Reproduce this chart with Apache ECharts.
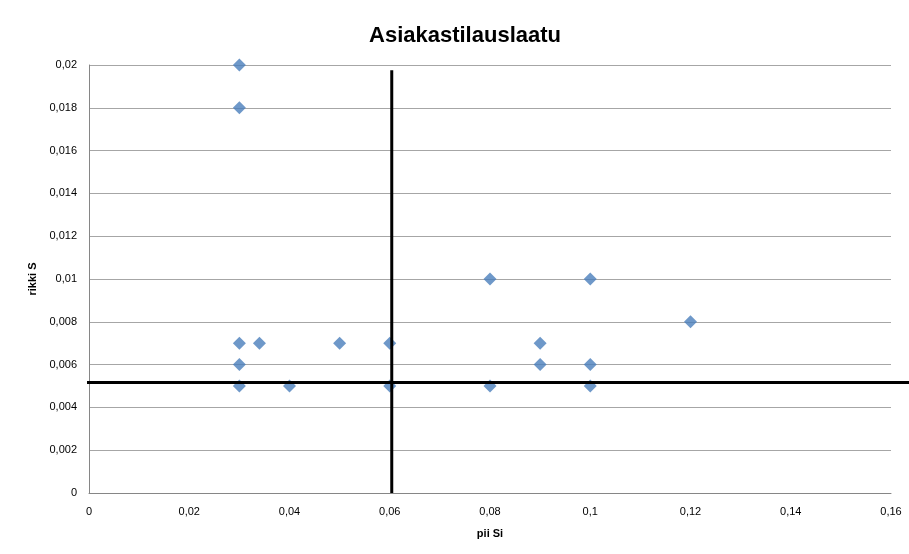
<!DOCTYPE html>
<html>
<head>
<meta charset="utf-8">
<script src="https://cdn.jsdelivr.net/npm/echarts@6/dist/echarts.min.js"></script>
<style>
  html, body { margin: 0; padding: 0; background: #fff; }
  #main { width: 909px; height: 554px; }
</style>
</head>
<body>
<div id="main"></div>
<script>
// pii Si (x) ja rikki S (y)
var piiSi = [0.03, 0.03, 0.03, 0.034, 0.05, 0.06, 0.03, 0.03, 0.04, 0.06, 0.08, 0.1, 0.12, 0.09, 0.09, 0.1, 0.08, 0.1];
var rikkiS = [0.02, 0.018, 0.007, 0.007, 0.007, 0.007, 0.006, 0.005, 0.005, 0.005, 0.01, 0.01, 0.008, 0.007, 0.006, 0.006, 0.005, 0.005];
// rajaviivat
var rajaX = 0.0604;
var rajaY = 0.00516;

function fmt(v) {
    return String(Math.round(v * 1000) / 1000).replace('.', ',');
}

var points = [];
for (var i = 0; i < piiSi.length; i++) {
    points.push([piiSi[i], rikkiS[i]]);
}

var myChart = echarts.init(document.getElementById('main'));
var option = {
    animation: false,
    title: {
        text: 'Asiakastilauslaatu',
        left: 460,
        top: 20,
        textAlign: 'center',
        textStyle: { fontFamily: 'Liberation Sans', fontSize: 22, fontWeight: 'bold', color: '#000' }
    },
    grid: { left: 89, right: 18, top: 65, bottom: 61 },
    xAxis: {
        type: 'value', min: 0, max: 0.16, interval: 0.02,
        name: 'pii Si', nameLocation: 'middle', nameGap: 35,
        nameTextStyle: { fontFamily: 'Liberation Sans', fontSize: 11, fontWeight: 'bold', color: '#000' },
        axisLine: { show: true, lineStyle: { color: '#868686' } },
        axisTick: { show: false },
        splitLine: { show: false },
        axisLabel: { formatter: fmt, margin: 13, fontFamily: 'Liberation Sans', fontSize: 11, color: '#000' }
    },
    yAxis: {
        type: 'value', min: 0, max: 0.02, interval: 0.002,
        name: 'rikki S', nameLocation: 'middle', nameGap: 49, nameRotate: 90,
        nameTextStyle: { fontFamily: 'Liberation Sans', fontSize: 11, fontWeight: 'bold', color: '#000' },
        axisLine: { show: true, lineStyle: { color: '#868686' } },
        axisTick: { show: false },
        splitLine: { lineStyle: { color: '#a6a6a6' } },
        axisLabel: { formatter: fmt, margin: 12, fontFamily: 'Liberation Sans', fontSize: 11, color: '#000' }
    },
    series: [{
        type: 'scatter',
        symbol: 'diamond',
        symbolSize: [13, 13],
        itemStyle: { color: '#4a7ebb' },
        data: points
    }]
};
myChart.setOption(option);

// rajaviivat piirretään datakoordinaateista
var pTop = myChart.convertToPixel({ gridIndex: 0 }, [rajaX, 0.01975]);
var pBot = myChart.convertToPixel({ gridIndex: 0 }, [rajaX, 0]);
var pLeft = myChart.convertToPixel({ gridIndex: 0 }, [0, rajaY]);
myChart.setOption({
    graphic: [
        { type: 'line', shape: { x1: pTop[0], y1: pTop[1], x2: pBot[0], y2: pBot[1] }, style: { stroke: '#000', lineWidth: 3 }, z: 100 },
        { type: 'line', shape: { x1: pLeft[0] - 2, y1: pLeft[1], x2: 909, y2: pLeft[1] }, style: { stroke: '#000', lineWidth: 3 }, z: 100 }
    ]
});
</script>
</body>
</html>
